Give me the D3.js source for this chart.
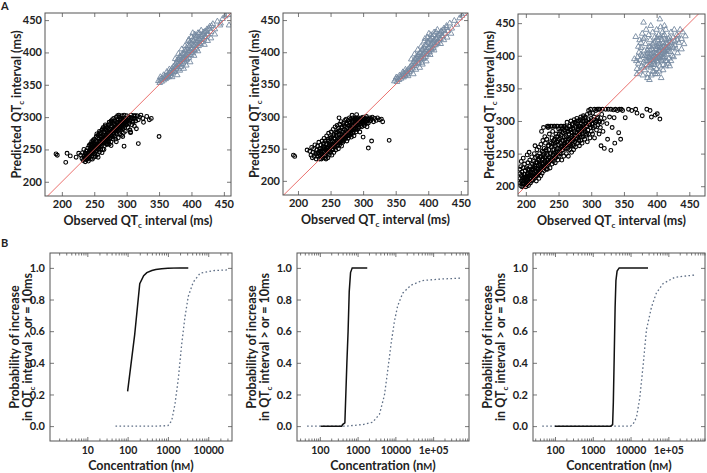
<!DOCTYPE html>
<html><head><meta charset="utf-8">
<script src="https://cdn.jsdelivr.net/npm/d3@7"></script>
<style>
body{margin:0;background:#fff}
svg{display:block}
text{font-family:Lato,"Open Sans",sans-serif;font-weight:700;fill:#222}
</style></head>
<body><svg width="707" height="473"></svg>
<script>
// ---------- DATA ----------
const xTicksA = [200,250,300,350,400,450];
const yTicksA = [200,250,300,350,400,450];
const yTicksB = [0,0.2,0.4,0.6,0.8,1.0];
const xTicksB1 = [10,100,1000,10000];
const xLabelsB1 = ["10","100","1000","10000"];
const xTicksB23 = [100,1000,10000,100000];
const xLabelsB23 = ["100","1000","10000","1e+05"];

// observed, predicted pairs (ms)
const a1Black = [231,236,233,233,234,240,235,236,236,231,236,244,237,238,238,234,238,248,239,241,240,236,240,252,232,245,234,250,229,241,
241,244,242,238,242,256,243,249,244,235,244,258,245,244,245,253,246,240,246,262,247,250,247,258,248,245,248,264,249,238,249,254,250,248,250,266,241,232,243,241,245,256,247,235,248,262,249,260,
251,243,251,258,252,252,252,264,253,247,253,270,254,256,254,262,255,242,255,268,256,250,256,272,257,258,257,266,258,246,258,274,259,254,259,276,260,262,260,270,252,239,254,274,256,238,258,278,260,250,
261,256,261,276,262,266,262,280,263,250,263,282,264,260,264,272,265,268,265,278,266,256,266,282,267,264,267,288,268,272,268,280,269,258,269,284,270,266,270,276,262,245,265,250,268,286,270,258,264,284,
271,270,271,284,272,262,272,288,273,276,273,292,274,266,274,282,275,272,275,290,276,262,276,294,277,278,277,286,278,270,278,296,279,282,279,266,280,276,280,290,273,258,276,256,280,298,278,292,
281,284,281,270,282,294,282,278,283,288,283,266,284,300,284,280,285,274,285,292,286,284,286,302,287,268,287,296,288,280,288,290,289,274,289,300,290,286,290,296,284,262,288,303,
291,280,291,292,292,298,292,272,293,288,293,302,294,282,295,296,295,276,296,290,296,303,297,284,298,298,298,278,299,292,300,288,300,302,294,270,
302,296,302,284,304,300,304,290,305,280,306,296,307,303,308,288,309,298,310,292,311,302,312,286,313,298,314,294,316,302,318,296,320,300,306,276,322,303,325,298,315,282,
191,243,193,241,206,230,208,244,213,240,222,238,226,244,318,259,350,270,296,255,306,277,331,301,338,298,335,296,326,292];
const a1BlackCore = [238,240,240,244,242,246,243,243,245,248,246,246,247,252,249,247,250,253,251,250,252,256,254,252,255,258,256,255,257,261,258,257,259,263,260,259,261,265,262,261,263,267,264,264,265,262,266,270,267,266,268,263,269,272,270,268,271,265,272,275,273,270,274,268,275,277,276,273,277,270,278,280,279,276,280,273,281,282,282,279,283,276,284,285,285,281,286,278,287,288,288,284,289,281,290,290,291,287,292,284,293,292,294,289,295,286,296,294,297,291,298,288,299,296,300,293,301,290,303,298,305,294,307,299,309,294,311,298,313,302,236,238,237,242,239,236,241,239,244,250,248,255,253,262,257,251,262,270,266,260,271,278,276,284,281,290,286,292,291,296];

const a1Blue = [349,356,351,353,352,358,354,355,355,360,357,357,358,362,360,359,361,364,362,361,364,366,365,362,366,369,367,364,368,372,369,367,370,375,371,369,372,378,373,372,374,370,375,381,376,375,377,385,378,378,379,374,380,388,381,381,382,392,383,385,384,378,385,395,386,389,387,383,388,398,389,392,390,386,391,402,392,395,393,389,394,406,395,399,396,392,397,410,398,402,399,396,400,414,401,406,402,399,403,418,404,410,405,403,406,422,407,414,408,406,409,426,410,418,411,410,412,430,413,420,414,413,415,424,416,416,418,428,419,420,420,432,422,424,424,436,426,428,428,440,430,432,433,444,436,436,440,448,444,442,448,452,452,456,456,458,458,442,445,445,385,405,390,410,395,418,400,424,405,428,380,398,375,390,398,385,404,395,410,402,388,375,392,380,382,372,370,362,366,374,362,370,357,365,352,362,410,430,415,434,402,430,396,420,378,365,420,412,425,418,430,422,436,428];
const a1BlueCore = [359,361,363,363,367,368,371,372,375,377,379,382,383,388,387,392,391,396,395,402,399,406,403,412,407,417,411,421,415,427,419,431,423,433,427,437,431,441,378,388,382,394,386,398,390,404,394,410,398,416,402,420,406,426,384,382,388,388,392,390,396,396,400,400,404,404,408,410,412,414,416,420,420,424,424,428];

const a2Black = [218,246,220,240,221,252,222,236,223,244,224,250,225,238,226,256,227,242,228,234,229,248,230,254,230,238,231,244,232,260,233,234,233,250,234,240,235,256,235,246,236,234,237,262,237,242,238,250,238,236,239,258,240,244,240,266,241,236,241,252,242,240,242,262,243,248,243,234,244,256,244,270,245,242,245,250,246,264,246,236,247,246,247,274,248,256,248,240,249,266,249,250,250,244,250,260,251,276,251,254,252,240,252,268,253,248,253,262,254,280,254,256,255,244,255,272,256,252,256,266,257,284,257,258,258,248,258,276,259,262,259,270,260,254,260,286,261,266,261,276,262,250,262,282,263,260,263,272,264,288,264,256,265,268,265,278,266,262,266,292,267,272,267,254,268,284,268,266,269,276,269,260,270,290,270,270,271,280,271,264,272,294,272,274,273,284,273,268,274,278,274,296,275,262,275,288,276,272,276,282,277,294,277,266,278,286,278,276,279,298,279,270,280,282,280,290,281,274,281,296,282,286,282,268,283,292,283,280,284,298,284,274,285,286,285,294,286,280,286,270,287,296,287,288,288,282,288,298,289,276,289,292,290,286,290,298,291,280,291,294,292,290,293,298,293,284,294,292,295,276,295,296,296,288,297,298,298,284,298,294,300,290,300,299,302,286,302,296,304,292,305,300,306,284,307,296,308,290,310,298,312,294,314,299,316,292,318,297,320,294,322,298,325,295,328,296,330,292,
193,240,195,238,214,248,340,263,308,251,300,268,313,262,283,302,290,303,263,298];
const a2BlackCore = [230,242,232,244,234,246,236,242,238,246,240,250,242,248,244,252,246,250,248,254,250,252,252,257,254,255,256,260,258,258,260,263,262,261,264,266,266,264,268,270,270,268,272,272,274,270,276,276,278,274,280,280,282,278,284,284,286,282,288,288,290,286,292,292,294,289,296,294,298,291,300,296,302,293,304,297,306,294,308,296,310,293,312,297,235,250,239,254,243,258,247,262,251,266,255,270,259,274,263,278,267,282,271,286,275,290,279,292,283,294,287,294,291,296,237,238,241,240,245,246,249,246,253,250,257,254,261,256,265,260,269,262,273,266,277,270,281,272,285,276,289,280,293,282,297,286,301,288,305,290];

const a2Blue = [348,355,350,358,352,354,353,360,355,357,357,362,358,359,360,365,362,361,363,367,365,364,366,370,368,366,369,373,371,369,372,377,374,372,375,381,376,375,378,385,379,379,380,389,381,382,383,392,384,386,385,396,387,389,388,399,389,393,390,384,391,403,392,396,393,390,394,407,395,400,396,393,397,411,398,404,399,397,400,415,401,407,402,400,403,419,404,411,405,404,406,423,407,415,408,407,409,427,410,419,411,411,412,431,413,421,414,414,415,425,416,417,418,429,419,421,420,433,422,425,424,437,426,429,428,441,430,433,433,445,436,437,440,449,444,443,448,453,452,457,455,460,384,404,389,409,394,417,399,423,404,427,379,397,374,389,397,386,403,396,409,403,387,376,391,381,381,373,369,363,365,373,361,369,356,364,351,361,409,431,414,435,401,429,395,421,377,366,419,413,424,419,429,423,435,429];
const a2BlueCore = [360,362,364,364,368,369,372,373,376,378,380,383,384,389,388,393,392,397,396,403,400,407,404,413,408,418,412,422,416,428,420,432,424,434,428,438,379,389,383,395,387,399,391,405,395,411,399,417,403,421,385,383,389,389,393,391,397,397,401,401,405,405,409,411,413,415,417,421,421,425];

const a3Black = [191,205,191,212,191,219,191,226,192,201,192,230,193,208,193,216,194,199,194,222,195,204,195,212,196,228,196,200,197,208,197,218,198,203,198,234,199,212,199,224,200,199,200,207,193,238,196,243,
201,215,201,228,202,204,202,210,203,220,203,236,204,201,204,214,205,225,205,208,206,218,206,240,207,205,207,230,208,212,208,222,209,208,209,245,210,216,210,234,202,248,205,252,
211,210,211,226,212,220,212,238,213,212,213,250,214,224,214,232,215,216,215,244,216,208,216,228,217,236,217,256,218,218,218,246,219,226,219,232,220,212,220,240,220,260,214,262,
221,222,221,250,222,232,222,244,223,216,223,264,224,236,224,228,225,254,225,220,226,242,226,270,227,230,227,248,228,224,228,258,229,238,229,276,230,246,230,232,230,266,224,284,227,290,
231,226,231,254,232,240,232,272,233,248,233,232,234,262,234,290,235,236,235,256,236,244,236,280,237,228,237,268,238,250,238,292,239,240,239,260,240,274,240,234,240,292,235,292,233,292,
241,248,241,284,242,238,242,264,243,256,243,292,244,244,244,272,245,262,245,236,246,280,246,252,247,268,247,292,248,246,248,258,249,276,249,240,250,264,250,288,250,252,244,292,249,292,
251,272,251,246,252,258,252,284,253,266,253,292,254,250,254,278,255,262,255,240,256,288,256,270,257,256,257,282,258,264,258,246,259,276,259,292,260,258,260,270,260,284,255,292,258,292,
261,262,261,290,262,276,262,250,263,268,263,298,264,258,264,284,265,272,265,246,266,280,266,264,267,292,267,256,268,274,268,286,269,262,269,300,270,270,270,252,270,282,
271,278,271,296,272,264,272,288,273,272,273,256,274,284,274,302,275,268,275,292,276,278,276,260,277,290,277,272,278,282,278,304,279,266,279,296,280,276,280,288,
281,270,281,300,282,284,282,262,283,292,283,278,284,306,284,270,285,288,285,296,286,280,286,266,287,300,287,290,288,276,288,308,289,286,290,296,290,272,290,304,
291,284,292,300,292,278,293,292,294,310,294,268,295,286,296,302,296,280,297,294,298,312,298,274,299,290,300,304,300,284,296,316,299,318,
301,296,302,312,302,280,303,290,304,306,305,274,306,298,307,316,308,286,309,304,310,294,311,318,312,280,313,300,314,290,316,310,317,298,318,284,320,304,315,262,320,258,305,318,309,318,313,318,317,318,
322,318,324,296,326,318,328,306,330,318,332,290,334,317,337,318,340,316,343,318,346,318,330,255,336,266,342,282,345,272,335,305,325,272,348,316,
352,305,357,318,362,316,368,318,370,312,378,308,385,318,390,316,392,306,398,309,401,311,405,303];
const a3BlackCore = [198,210,200,214,202,218,204,206,206,212,208,216,210,220,212,214,214,218,216,222,218,226,220,220,222,226,224,230,226,234,228,228,230,236,232,234,234,240,236,238,238,244,240,242,242,248,244,250,246,244,248,252,250,258,252,250,254,260,256,256,258,262,260,266,262,258,264,268,266,272,268,264,270,276,272,270,274,278,276,282,278,274,280,286,282,280,284,290,286,284,288,294,290,288,292,296,294,292,296,298,298,294,300,300,302,296,304,302,306,292,308,300,310,306,312,298,
199,218,203,226,207,222,211,230,215,236,219,242,223,246,227,252,231,256,235,262,239,266,243,270,247,276,251,280,255,284,259,286,263,288,267,292,271,294,275,298,279,300,283,302,287,304,291,306,
195,208,197,214,201,202,205,216,209,226,213,228,217,216,221,234,225,240,229,244,233,226,237,250,241,256,245,266,249,268,253,274,257,270,261,278,265,284,269,288,273,262,277,296,281,292,285,276,289,300,293,280];

const a3Blue = [368,429,369,392,370,380,371,398,372,388,373,405,374,376,375,394,376,412,377,384,378,400,379,370,380,451,380,390,381,408,382,378,383,418,384,396,385,386,386,404,387,372,388,414,389,363,389,392,390,424,391,382,392,402,393,410,394,376,395,394,396,420,397,386,398,404,399,414,400,380,400,396,401,428,402,390,403,408,404,418,405,456,405,384,405,400,406,412,407,394,408,424,409,404,410,386,410,414,411,398,412,432,413,408,414,392,415,420,416,402,417,412,418,426,419,396,420,416,421,406,422,436,423,420,424,400,425,428,426,412,427,440,428,422,430,410,431,432,433,430,434,420,436,440,438,426,440,436,444,430,386,366,392,370,398,372,404,376,410,378,414,384,418,388,422,392,376,420,382,428,388,432,394,436,400,440,406,444,412,446,384,440,414,440,378,434,397,428,403,432,409,436,416,392,420,384,426,398,432,404,438,410,442,418,372,414,374,424,380,426,391,446,396,376,401,372,407,366,385,400,390,408,395,404,400,410,405,414,410,420,415,424,420,428,390,396,395,388,402,398,408,392,412,402,418,408,424,414,428,416,432,424,380,382,376,402,370,372,366,395];
const a3BlueCore = [384,392,388,398,392,394,396,400,400,404,404,408,408,412,412,416,416,418,420,422,386,408,390,414,394,418,398,422,402,424,406,428,410,430,388,384,392,386,396,390,400,392,404,396,408,398,412,406,416,410,382,400,386,392,398,410,402,414,406,418,410,408,414,412,418,414,394,398,398,396,402,404,406,402,390,402,410,396];

// probability curves: concentration (nM) and probability
const b1SolidConc = [100,150,200,250,300,400,500,700,1000,2000,3200];
const b1SolidProb = [0.22,0.58,0.90,0.95,0.97,0.983,0.99,0.995,0.998,1.0,1.0];
const b1DotConc = [50,100,200,500,1000,1240,1500,1830,2200,2650,3200,4250,6300,13500,30000];
const b1DotProb = [0,0,0,0,0.003,0.034,0.14,0.31,0.52,0.69,0.82,0.91,0.966,0.983,0.987];

const b2SolidConc = [105,200,300,380,400,460,520,560,600,650,720,1000,1800];
const b2SolidProb = [0,0,0,0,0.01,0.02,0.4,0.6,0.85,0.97,1.0,1.0,1.0];
const b2DotConc = [46,500,1380,2520,3790,5130,6300,7700,9400,11500,15600,25700,52000,175000,535000];
const b2DotProb = [0,0,0.01,0.025,0.075,0.195,0.355,0.52,0.66,0.76,0.84,0.89,0.92,0.93,0.935];

const b3SolidConc = [100,1000,3000,3350,3500,3700,3900,4100,4400,5000,10000,29000];
const b3SolidProb = [0,0,0,0.01,0.15,0.45,0.75,0.92,0.98,1.0,1.0,1.0];
const b3DotConc = [46,10000,11800,14400,17600,21600,26400,35600,48000,72000,147000,490000];
const b3DotProb = [0,0,0.015,0.057,0.18,0.39,0.61,0.75,0.84,0.90,0.94,0.955];

// ---------- DRAW ----------
const svg = d3.select("svg");
const BLUE = "#7589a0", RED = "#e8605c", FRAME = "#555";
function pairs(a){const r=[];for(let i=0;i<a.length;i+=2)r.push([a[i],a[i+1]]);return r;}
function styleAxis(sel,fs){
  sel.select(".domain").remove();
  sel.selectAll(".tick line").attr("stroke",FRAME).attr("stroke-width",0.8);
  sel.selectAll(".tick text").attr("font-size",fs).attr("fill","#222")
     .style("font-family","Lato,'Open Sans',sans-serif").style("font-weight","700");
}
function qtcText(t, pre, post){
  t.append("tspan").text(pre+"QT");
  t.append("tspan").text("c").attr("font-size",8).attr("dy",3);
  t.append("tspan").text(post).attr("dy",-3);
}

let clipN=0;
function scatterPanel(p){
  const x=d3.scaleLinear().domain(p.xd).range([p.l,p.r]);
  const y=d3.scaleLinear().domain(p.yd).range([p.b,p.t]);
  const id="clip"+(clipN++);
  svg.append("clipPath").attr("id",id).append("rect")
    .attr("x",p.l).attr("y",p.t).attr("width",p.r-p.l).attr("height",p.b-p.t);
  const pg=svg.append("g").attr("clip-path",`url(#${id})`);
  pg.append("g").selectAll("path").data(pairs(p.blue)).join("path")
    .attr("d",d3.symbol(d3.symbolTriangle,14))
    .attr("transform",d=>`translate(${x(d[0])},${y(d[1])})`)
    .attr("fill","none").attr("stroke",BLUE).attr("stroke-width",0.9);
  pg.append("g").selectAll("circle").data(pairs(p.black)).join("circle")
    .attr("cx",d=>x(d[0])).attr("cy",d=>y(d[1])).attr("r",1.9)
    .attr("fill","none").attr("stroke","#000").attr("stroke-width",1.1);
  const lo=Math.min(p.xd[0],p.yd[0]), hi=Math.max(p.xd[1],p.yd[1]);
  pg.append("line").attr("x1",x(lo)).attr("y1",y(lo)).attr("x2",x(hi)).attr("y2",y(hi))
    .attr("stroke",RED).attr("stroke-width",0.9);
  svg.append("g").attr("transform",`translate(0,${p.b})`)
    .call(d3.axisBottom(x).tickValues(xTicksA).tickSize(-4).tickPadding(4)).call(styleAxis,11);
  svg.append("g").attr("transform",`translate(0,${p.t})`)
    .call(d3.axisTop(x).tickValues(xTicksA).tickSize(-4).tickFormat("")).call(styleAxis,11);
  svg.append("g").attr("transform",`translate(${p.l},0)`)
    .call(d3.axisLeft(y).tickValues(yTicksA).tickSize(-4).tickPadding(3)).call(styleAxis,11);
  svg.append("g").attr("transform",`translate(${p.r},0)`)
    .call(d3.axisRight(y).tickValues(yTicksA).tickSize(-4).tickFormat("")).call(styleAxis,11);
  svg.append("rect").attr("x",p.l).attr("y",p.t).attr("width",p.r-p.l).attr("height",p.b-p.t)
    .attr("fill","none").attr("stroke",FRAME).attr("stroke-width",1);
  const xt=svg.append("text").attr("x",(p.l+p.r)/2).attr("y",p.b+29).attr("text-anchor","middle").attr("font-size",12.5);
  qtcText(xt,"Observed "," interval (ms)");
  const yt=svg.append("text").attr("transform",`translate(${p.l-24},${(p.t+p.b)/2}) rotate(-90)`)
    .attr("text-anchor","middle").attr("font-size",12.5);
  qtcText(yt,"Predicted "," interval (ms)");
}

function probPanel(p){
  const x=d3.scaleLog().domain(p.xd).range([p.l,p.r]);
  const y=d3.scaleLinear().domain([-0.094,1.094]).range([p.b,p.t]);
  const id="clip"+(clipN++);
  svg.append("clipPath").attr("id",id).append("rect")
    .attr("x",p.l).attr("y",p.t).attr("width",p.r-p.l).attr("height",p.b-p.t);
  const pg=svg.append("g").attr("clip-path",`url(#${id})`);
  const line=d3.line().x(d=>x(d[0])).y(d=>y(d[1]));
  pg.append("path").datum(d3.zip(p.dotC,p.dotP)).attr("d",line)
    .attr("fill","none").attr("stroke","#5f6f86").attr("stroke-width",1.3).attr("stroke-dasharray","1.6,2.4");
  pg.append("path").datum(d3.zip(p.solC,p.solP)).attr("d",line)
    .attr("fill","none").attr("stroke","#111").attr("stroke-width",1.5);
  const minor=[];
  const e0=Math.floor(Math.log10(p.xd[0])), e1=Math.ceil(Math.log10(p.xd[1]));
  for(let e=e0;e<=e1;e++) for(let m=2;m<=9;m++){const v=m*Math.pow(10,e); if(v>=p.xd[0]&&v<=p.xd[1]) minor.push(v);}
  const lbl=d=>p.labels[p.ticks.indexOf(d)];
  svg.append("g").attr("transform",`translate(0,${p.b})`)
    .call(d3.axisBottom(x).tickValues(p.ticks).tickFormat(lbl).tickSize(-4).tickPadding(6)).call(styleAxis,10.5);
  svg.append("g").attr("transform",`translate(0,${p.b})`)
    .call(d3.axisBottom(x).tickValues(minor).tickFormat("").tickSize(-2.5)).call(styleAxis,10.5);
  svg.append("g").attr("transform",`translate(0,${p.t})`)
    .call(d3.axisTop(x).tickValues(p.ticks).tickFormat("").tickSize(-4)).call(styleAxis,10.5);
  svg.append("g").attr("transform",`translate(0,${p.t})`)
    .call(d3.axisTop(x).tickValues(minor).tickFormat("").tickSize(-2.5)).call(styleAxis,10.5);
  svg.append("g").attr("transform",`translate(${p.l},0)`)
    .call(d3.axisLeft(y).tickValues(yTicksB).tickFormat(d3.format(".1f")).tickSize(-4).tickPadding(5)).call(styleAxis,11);
  svg.append("g").attr("transform",`translate(${p.r},0)`)
    .call(d3.axisRight(y).tickValues(yTicksB).tickFormat("").tickSize(-4)).call(styleAxis,11);
  svg.append("rect").attr("x",p.l).attr("y",p.t).attr("width",p.r-p.l).attr("height",p.b-p.t)
    .attr("fill","none").attr("stroke",FRAME).attr("stroke-width",1);
  const xt=svg.append("text").attr("x",(p.l+p.r)/2).attr("y",p.b+29).attr("text-anchor","middle").attr("font-size",12.5);
  xt.append("tspan").text("Concentration (n");
  xt.append("tspan").text("M").attr("font-size",9.5);
  xt.append("tspan").text(")");
  const cy=(p.t+p.b)/2;
  svg.append("text").attr("transform",`translate(${p.l-p.t1},${cy}) rotate(-90)`).attr("text-anchor","middle")
    .attr("font-size",12.5).text("Probability of increase");
  const yt=svg.append("text").attr("transform",`translate(${p.l-p.t2},${cy}) rotate(-90)`).attr("text-anchor","middle").attr("font-size",12.5);
  qtcText(yt,"in "," interval > or = 10ms");
}

scatterPanel({l:45,r:231,t:13,b:196,xd:[174,461],yd:[178,461],black:a1Black.concat(a1BlackCore),blue:a1Blue.concat(a1BlueCore)});
scatterPanel({l:283,r:468,t:13,b:195,xd:[177,461],yd:[178,461],black:a2Black.concat(a2BlackCore),blue:a2Blue.concat(a2BlueCore)});
scatterPanel({l:518,r:705,t:14,b:196,xd:[188,474],yd:[185,464],black:a3Black.concat(a3BlackCore),blue:a3Blue.concat(a3BlueCore)});

probPanel({l:50,r:232,t:253,b:441,xd:[Math.pow(10,0.074),Math.pow(10,4.59)],ticks:xTicksB1,labels:xLabelsB1,
  solC:b1SolidConc,solP:b1SolidProb,dotC:b1DotConc,dotP:b1DotProb,t1:31,t2:18});
probPanel({l:297,r:469,t:253,b:441,xd:[Math.pow(10,1.395),Math.pow(10,5.95)],ticks:xTicksB23,labels:xLabelsB23,
  solC:b2SolidConc,solP:b2SolidProb,dotC:b2DotConc,dotP:b2DotProb,t1:41,t2:28});
probPanel({l:533,r:705,t:253,b:441,xd:[Math.pow(10,1.418),Math.pow(10,5.97)],ticks:xTicksB23,labels:xLabelsB23,
  solC:b3SolidConc,solP:b3SolidProb,dotC:b3DotConc,dotP:b3DotProb,t1:41,t2:28});

svg.append("text").attr("x",1).attr("y",10).attr("font-size",11).text("A");
svg.append("text").attr("x",1).attr("y",247).attr("font-size",11).text("B");
</script></body></html>
